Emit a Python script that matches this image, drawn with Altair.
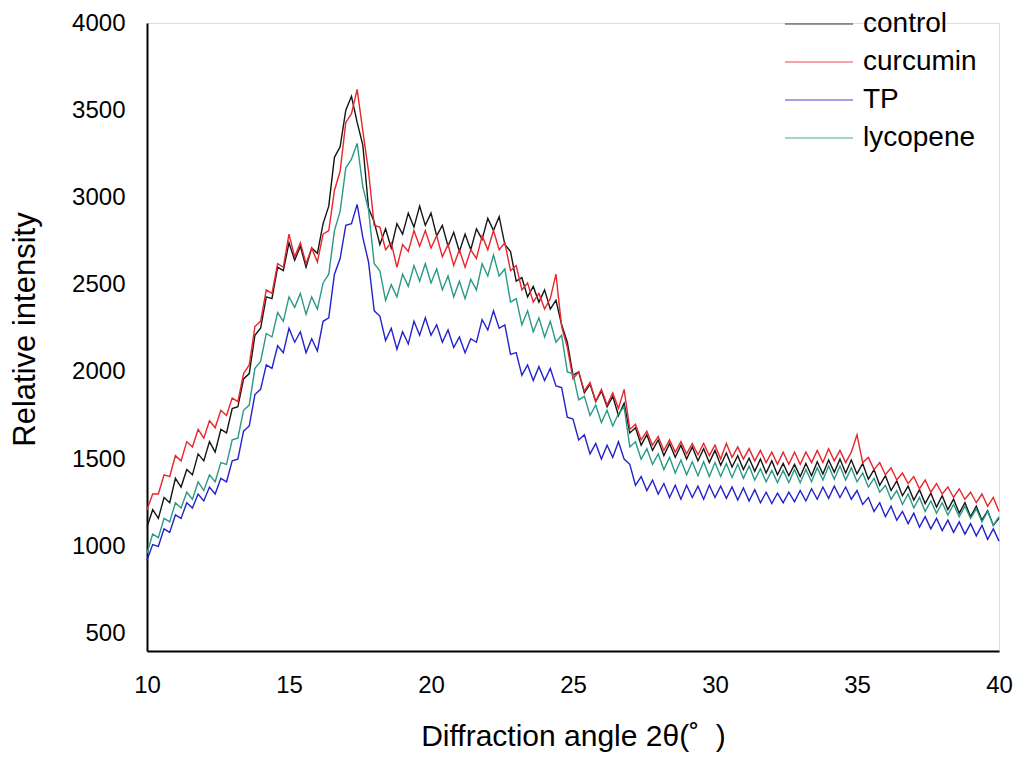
import altair as alt
import pandas as pd

# sampling grid of the diffraction angle (degrees 2-theta), 0.2 deg step
angles = [round(10 + 0.2 * i, 1) for i in range(151)]

control = [
    1110, 1210, 1160, 1280, 1250, 1390, 1340, 1440, 1410, 1530,
    1490, 1600, 1540, 1670, 1650, 1790, 1800, 1960, 1990, 2210,
    2250, 2430, 2420, 2600, 2580, 2740, 2640, 2720, 2600, 2710,
    2680, 2850, 2950, 3230, 3290, 3500, 3580, 3430, 3300, 2940,
    2860, 2730, 2820, 2710, 2850, 2790, 2910, 2830, 2950, 2840,
    2910, 2780, 2840, 2720, 2800, 2690, 2790, 2700, 2820, 2760,
    2880, 2810, 2890, 2730, 2690, 2520, 2540, 2430, 2490, 2400,
    2470, 2360, 2410, 2270, 2170, 1980, 2000, 1880, 1930, 1830,
    1890, 1800, 1860, 1750, 1820, 1650, 1680, 1580, 1640, 1550,
    1610, 1520, 1590, 1510, 1580, 1500, 1570, 1490, 1560, 1480,
    1550, 1465, 1535, 1455, 1520, 1440, 1505, 1430, 1500, 1420,
    1490, 1410, 1475, 1405, 1470, 1400, 1475, 1405, 1485, 1415,
    1495, 1425, 1500, 1420, 1495, 1415, 1475, 1385, 1440, 1350,
    1405, 1320, 1375, 1290, 1345, 1265, 1325, 1245, 1305, 1225,
    1290, 1210, 1270, 1190, 1250, 1170, 1230, 1150, 1205, 1120,
    1160,
]

curcumin = [
    1210, 1300, 1300, 1410, 1400, 1520, 1490, 1600, 1570, 1670,
    1620, 1720, 1680, 1780, 1750, 1850, 1830, 1990, 2040, 2260,
    2290, 2470, 2450, 2620, 2600, 2790, 2660, 2740, 2620, 2710,
    2630, 2790, 2810, 3040, 3150, 3430, 3480, 3620, 3380, 3150,
    2840, 2830, 2700, 2740, 2600, 2730, 2690, 2810, 2720, 2810,
    2710, 2780, 2660, 2730, 2610, 2700, 2600, 2700, 2650, 2780,
    2700, 2810, 2700, 2740, 2580, 2610, 2470, 2510, 2400, 2450,
    2360, 2420, 2560, 2260, 2140, 1960, 2000, 1890, 1940, 1830,
    1900, 1810, 1880, 1790, 1900, 1670, 1700, 1610, 1660, 1580,
    1630, 1550, 1610, 1540, 1600, 1530, 1590, 1525, 1590, 1520,
    1580, 1500, 1590, 1510, 1570, 1500, 1560, 1490, 1550, 1480,
    1540, 1470, 1540, 1470, 1540, 1470, 1540, 1480, 1550, 1480,
    1560, 1490, 1550, 1480, 1540, 1640, 1480, 1510, 1440, 1480,
    1410, 1450, 1380, 1420, 1360, 1400, 1330, 1380, 1310, 1360,
    1300, 1340, 1280, 1330, 1270, 1310, 1250, 1300, 1230, 1280,
    1200,
]

tp = [
    920, 1010, 1000, 1100, 1080, 1180, 1160, 1250, 1220, 1300,
    1260, 1340, 1300, 1390, 1370, 1490, 1500, 1660, 1690, 1870,
    1900, 2040, 2020, 2150, 2110, 2250, 2170, 2230, 2110, 2190,
    2120, 2290, 2310, 2560, 2650, 2840, 2850, 2960, 2770, 2630,
    2350, 2320, 2180, 2250, 2130, 2230, 2160, 2290, 2210, 2310,
    2210, 2270, 2170, 2240, 2140, 2200, 2110, 2190, 2170, 2300,
    2240, 2350, 2250, 2270, 2100, 2110, 1980, 2040, 1950, 2030,
    1950, 2020, 1920, 1910, 1740, 1730, 1610, 1640, 1530, 1590,
    1500, 1580, 1510, 1600, 1500, 1470, 1350, 1400, 1320, 1380,
    1300, 1360, 1280, 1350, 1270, 1350, 1280, 1345, 1270, 1350,
    1280, 1345, 1275, 1340, 1265, 1335, 1260, 1325, 1250, 1310,
    1245, 1305, 1250, 1310, 1255, 1320, 1260, 1330, 1270, 1340,
    1275, 1345, 1280, 1340, 1270, 1320, 1240, 1280, 1200, 1250,
    1170, 1230, 1150, 1200, 1130, 1190, 1110, 1170, 1100, 1160,
    1090, 1150, 1080, 1140, 1070, 1130, 1060, 1120, 1040, 1100,
    1030,
]

lycopene = [
    960, 1070, 1050, 1160, 1140, 1250, 1220, 1310, 1270, 1370,
    1320, 1410, 1370, 1480, 1470, 1610, 1620, 1780, 1810, 2020,
    2060, 2220, 2200, 2340, 2290, 2430, 2370, 2450, 2330, 2430,
    2360, 2510, 2560, 2810, 2920, 3170, 3220, 3310, 3060, 2930,
    2620, 2580, 2410, 2500, 2430, 2560, 2490, 2610, 2520, 2620,
    2510, 2590, 2470, 2550, 2430, 2520, 2420, 2530, 2470, 2620,
    2550, 2670, 2550, 2590, 2400, 2420, 2270, 2350, 2230, 2310,
    2200, 2290, 2170, 2210, 2000, 1990, 1840, 1860, 1750, 1810,
    1710, 1780, 1690, 1760, 1800, 1570, 1600, 1500, 1560, 1470,
    1530, 1440, 1510, 1420, 1495, 1410, 1485, 1405, 1485, 1400,
    1480, 1400, 1475, 1395, 1470, 1390, 1460, 1380, 1445, 1370,
    1435, 1365, 1435, 1365, 1440, 1365, 1440, 1370, 1450, 1380,
    1460, 1385, 1460, 1380, 1450, 1370, 1420, 1340, 1390, 1310,
    1350, 1270, 1320, 1240, 1300, 1220, 1280, 1200, 1260, 1190,
    1250, 1180, 1240, 1170, 1230, 1160, 1215, 1140, 1200, 1120,
    1170,
]

series_names = ["control", "curcumin", "TP", "lycopene"]
series_colors = ["#151515", "#e8262c", "#2323cc", "#2a9988"]
draw_order = {"curcumin": 0, "control": 1, "lycopene": 2, "TP": 3}
x_ticks = [10, 15, 20, 25, 30, 35, 40]
y_ticks = [500, 1000, 1500, 2000, 2500, 3000, 3500, 4000]
x_title = "Diffraction angle 2θ(˚\u00a0\u00a0)"
y_title = "Relative intensity"

values = {"control": control, "curcumin": curcumin, "TP": tp, "lycopene": lycopene}
for k, v in values.items():
    assert len(v) == len(angles), (k, len(v))

rows = []
for name in series_names:
    for a, v in zip(angles, values[name]):
        rows.append({"angle": a, "intensity": v, "series": name, "order": draw_order[name]})
df = pd.DataFrame(rows)
legend_df = pd.DataFrame({"series": series_names, "rank": list(range(len(series_names)))})

FONT = "Liberation Sans"
color_enc = alt.Color(
    "series:N",
    scale=alt.Scale(domain=series_names, range=series_colors),
    legend=None,
)

lines = alt.Chart(df).mark_line(strokeWidth=1.4).encode(
    x=alt.X(
        "angle:Q",
        scale=alt.Scale(domain=[10, 40], nice=False, zero=False),
        axis=alt.Axis(
            values=x_ticks, title=x_title, grid=False, ticks=False,
            domainColor="black", domainWidth=2, labelFontSize=24, labelPadding=22,
            titleFontSize=30, titleFontWeight="normal", titlePadding=24,
            labelColor="black", titleColor="black", labelFont=FONT, titleFont=FONT,
            labelFlush=False,
        ),
    ),
    y=alt.Y(
        "intensity:Q",
        scale=alt.Scale(domain=[400, 4000], nice=False, zero=False),
        axis=alt.Axis(
            values=y_ticks, format="d", title=y_title, grid=False, ticks=False,
            domainColor="black", domainWidth=2, labelFontSize=24, labelPadding=22,
            titleFontSize=31, titleFontWeight="normal", titlePadding=30, titleY=306,
            labelColor="black", titleColor="black", labelFont=FONT, titleFont=FONT,
        ),
    ),
    color=color_enc,
    order=alt.Order("order:Q"),
    detail="series:N",
)

# legend rows placed through a small linear scale (row index -> pixel)
legend_y = alt.Y(
    "rank:Q",
    scale=alt.Scale(domain=[0, 3], range=[1, 115], nice=False, zero=False),
    axis=None,
)

legend_lines = alt.Chart(legend_df).mark_rule(strokeWidth=1.2, opacity=0.85).encode(
    x=alt.value(638),
    x2=alt.value(706),
    y=legend_y,
    color=color_enc,
)

legend_text = alt.Chart(legend_df).mark_text(
    align="left", baseline="middle", fontSize=28, font=FONT, color="black"
).encode(
    x=alt.value(716),
    y=legend_y,
    text="series:N",
)

legend = alt.layer(legend_lines, legend_text)

chart = alt.layer(lines, legend).resolve_scale(y="independent").properties(
    width=852,
    height=628,
    autosize=alt.AutoSizeParams(type="none"),
    padding={"left": 139, "top": 15, "right": 14, "bottom": 105},
).configure_view(stroke=None).configure(background="white")

chart.save("out.html", embed_options={"renderer": "svg", "actions": False})
